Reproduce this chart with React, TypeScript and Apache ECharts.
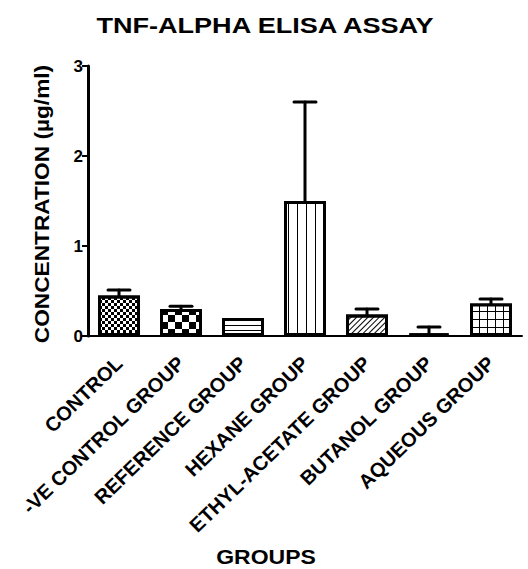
import React, { useEffect, useRef } from "react";
import * as echarts from "echarts";

const categories = [
  "CONTROL",
  "-VE CONTROL GROUP",
  "REFERENCE GROUP",
  "HEXANE GROUP",
  "ETHYL-ACETATE GROUP",
  "BUTANOL GROUP",
  "AQUEOUS GROUP",
];
const means = [0.45, 0.3, 0.2, 1.5, 0.24, 0.03, 0.36];
const errorTops = [0.51, 0.33, 0.2, 2.6, 0.3, 0.1, 0.41];
const yTicks = [0, 1, 2, 3];

const FONT = "'Liberation Sans', Arial, Helvetica, sans-serif";

const decals: any[] = [
  { symbol: "rect", symbolSize: 1, color: "#000", dashArrayX: [[3, 3], [0, 3, 3, 0]], dashArrayY: [3, 0] },
  { symbol: "rect", symbolSize: 1, color: "#000", dashArrayX: [[7, 7], [0, 7, 7, 0]], dashArrayY: [7, 0] },
  { symbol: "rect", symbolSize: 1, color: "#000", dashArrayX: [1, 0], dashArrayY: [1, 4] },
  { symbol: "rect", symbolSize: 1, color: "#000", dashArrayX: [1, 7.5], dashArrayY: [1, 0] },
  { symbol: "rect", symbolSize: 1, color: "#000", dashArrayX: [1, 0], dashArrayY: [1, 3], rotation: -Math.PI / 4 },
  { symbol: "rect", symbolSize: 1, color: "#000", dashArrayX: [1, 0], dashArrayY: [1, 3] },
  { symbol: "rect", symbolSize: 1, color: "#fff", dashArrayX: [7, 1], dashArrayY: [7, 1] },
];

export default function App() {
  const ref = useRef<HTMLDivElement>(null);
  useEffect(() => {
    if (!ref.current) return;
    const chart = echarts.init(ref.current, null, { renderer: "svg" });
    const option: any = {
      animation: false,
      backgroundColor: "#fff",
      grid: { left: 88, right: 6, top: 66, bottom: 233 },
      graphic: [
        {
          type: "text",
          x: 265,
          y: 25,
          scaleX: 1.23,
          style: {
            text: "TNF-ALPHA ELISA ASSAY",
            fontSize: 22,
            fontWeight: "bold",
            fontFamily: FONT,
            fill: "#000",
            align: "center",
            verticalAlign: "middle",
            textAlign: "center",
            textVerticalAlign: "middle",
          },
        },
        {
          type: "text",
          x: 266,
          y: 557,
          scaleX: 1.15,
          style: {
            text: "GROUPS",
            fontSize: 20,
            fontWeight: "bold",
            fontFamily: FONT,
            fill: "#000",
            align: "center",
            verticalAlign: "middle",
            textAlign: "center",
            textVerticalAlign: "middle",
          },
        },
        {
          type: "text",
          x: 42,
          y: 204,
          rotation: Math.PI / 2,
          scaleX: 1.08,
          style: {
            text: "CONCENTRATION (µg/ml)",
            fontSize: 21,
            fontWeight: "bold",
            fontFamily: FONT,
            fill: "#000",
            align: "center",
            verticalAlign: "middle",
            textAlign: "center",
            textVerticalAlign: "middle",
          },
        },
      ],
      xAxis: {
        type: "category",
        data: categories,
        axisLine: { lineStyle: { color: "#000", width: 2 } },
        axisTick: { alignWithLabel: true, length: 6, lineStyle: { color: "#000", width: 2 } },
        axisLabel: {
          rotate: 44,
          interval: 0,
          margin: 24,
          color: "#000",
          fontSize: 20,
          fontWeight: "bold",
          fontFamily: FONT,
        },
      },
      yAxis: {
        type: "value",
        min: yTicks[0],
        max: yTicks[yTicks.length - 1],
        interval: 1,
        splitLine: { show: false },
        axisLine: { show: true, lineStyle: { color: "#000", width: 3 } },
        axisTick: { show: true, length: 6, lineStyle: { color: "#000", width: 2 } },
        axisLabel: {
          margin: 5,
          color: "#000",
          fontSize: 17,
          fontWeight: "bold",
          fontFamily: FONT,
        },
      },
      series: [
        {
          type: "bar",
          barWidth: 42,
          data: means.map((v, i) => ({
            value: v,
            itemStyle: {
              color: i === 6 ? "#000" : "#fff",
              borderColor: "#000",
              borderWidth: 3,
              decal: decals[i],
            },
          })),
          z: 2,
        },
        {
          type: "custom",
          z: 3,
          data: errorTops.map((e, i) => [i, means[i], e]),
          renderItem: (params: any, api: any) => {
            const idx = api.value(0);
            const m = api.value(1);
            const e = api.value(2);
            if (e <= m) return { type: "group", children: [] };
            const p0 = api.coord([idx, m]);
            const p1 = api.coord([idx, e]);
            const half = 11;
            const style = { stroke: "#000", lineWidth: 3, lineCap: "round" };
            return {
              type: "group",
              children: [
                { type: "line", shape: { x1: p0[0], y1: p0[1], x2: p1[0], y2: p1[1] }, style },
                { type: "line", shape: { x1: p1[0] - half, y1: p1[1], x2: p1[0] + half, y2: p1[1] }, style },
              ],
            };
          },
        },
      ],
    };
    chart.setOption(option);
    return () => chart.dispose();
  }, []);
  return <div ref={ref} style={{ position: "absolute", left: 0, top: 0, width: 528, height: 569 }} />;
}
